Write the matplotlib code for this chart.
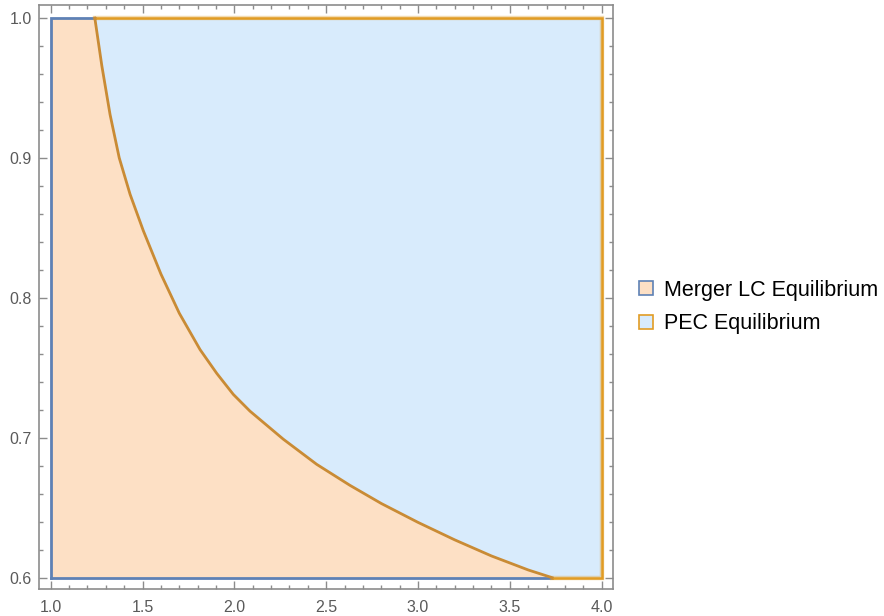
import numpy as np
import matplotlib
matplotlib.use("Agg")
import matplotlib.pyplot as plt
from matplotlib.patches import Patch
from matplotlib.ticker import MultipleLocator, FormatStrFormatter

# Boundary curve between the two regions
curve_x = [1.24, 1.278, 1.323, 1.373, 1.432, 1.504, 1.60, 1.70, 1.813, 1.904,
           1.994, 2.085, 2.266, 2.448, 2.629, 2.80, 3.0, 3.2, 3.4, 3.6, 3.73]
curve_y = [1.0, 0.966, 0.931, 0.900, 0.874, 0.848, 0.817, 0.789, 0.763, 0.746,
           0.731, 0.719, 0.699, 0.681, 0.666, 0.653, 0.6395, 0.627, 0.6155,
           0.6055, 0.6]

x_min, x_max = 1.0, 4.0
y_min, y_max = 0.6, 1.0

labels = ["Merger LC Equilibrium", "PEC Equilibrium"]

peach = "#FDE0C5"
lightblue = "#D8EBFC"
blue = "#5E81B5"
orange = "#E19C24"
curve_col = "#C98B35"

plt.rcParams['font.family'] = ['Liberation Sans', 'DejaVu Sans']

fig = plt.figure(figsize=(8.84, 6.16), dpi=100)
ax = fig.add_axes([39/884, 1-588.7/616, (612.7-39)/884, (588.7-5.3)/616])

cx = np.array(curve_x)
cy = np.array(curve_y)

# Merger LC region (left/below curve)
mx = np.concatenate([[x_min, x_min], cx])
my = np.concatenate([[y_min, y_max], cy])
ax.fill(mx, my, color=peach, lw=0, zorder=1)

# PEC region (right/above curve)
px = np.concatenate([cx, [x_max, x_max]])
py = np.concatenate([cy, [y_min, y_max]])
ax.fill(px, py, color=lightblue, lw=0, zorder=1)

# boundaries
ax.plot([x_min, x_min, curve_x[0]], [y_min, y_max, y_max], color=blue, lw=2.0,
        solid_joinstyle='miter', zorder=3)
ax.plot([x_min, curve_x[-1]], [y_min, y_min], color=blue, lw=2.0, zorder=3)
ax.plot([curve_x[0], x_max, x_max, curve_x[-1]], [y_max, y_max, y_min, y_min],
        color=orange, lw=3.2, alpha=0.35, solid_joinstyle='miter', zorder=3)
ax.plot([curve_x[0], x_max, x_max, curve_x[-1]], [y_max, y_max, y_min, y_min],
        color=orange, lw=1.8, solid_joinstyle='miter', zorder=4)
ax.plot(cx, cy, color=curve_col, lw=2.0, zorder=4, solid_joinstyle='round')

ax.set_xlim(x_min - 0.064, x_max + 0.06)
ax.set_ylim(y_min - 0.0079, y_max + 0.0091)

ax.xaxis.set_major_locator(MultipleLocator(0.5))
ax.xaxis.set_minor_locator(MultipleLocator(0.1))
ax.yaxis.set_major_locator(MultipleLocator(0.1))
ax.yaxis.set_minor_locator(MultipleLocator(0.02))
ax.xaxis.set_major_formatter(FormatStrFormatter('%.1f'))
ax.yaxis.set_major_formatter(FormatStrFormatter('%.1f'))

frame_col = "#8C8C8C"
for s in ax.spines.values():
    s.set_color(frame_col)
    s.set_linewidth(1.2)
ax.tick_params(which='both', direction='in', top=True, right=True,
               color=frame_col, width=1.0)
ax.tick_params(which='major', length=5.5, labelsize=11.5, labelcolor='#5A5A5A',
               pad=5)
ax.tick_params(which='minor', length=2.8)
ax.tick_params(axis='x', which='major', pad=8)

handles = [Patch(facecolor=peach, edgecolor=blue, lw=1.2),
           Patch(facecolor=lightblue, edgecolor=orange, lw=1.2)]
fig.legend(handles, labels, loc='center left',
           bbox_to_anchor=(639/884, 1-307/616), frameon=False,
           fontsize=15.5, handlelength=0.65, handleheight=0.65,
           handletextpad=0.5, labelspacing=0.6, borderpad=0, borderaxespad=0)

fig.savefig("out.png", dpi=100)
